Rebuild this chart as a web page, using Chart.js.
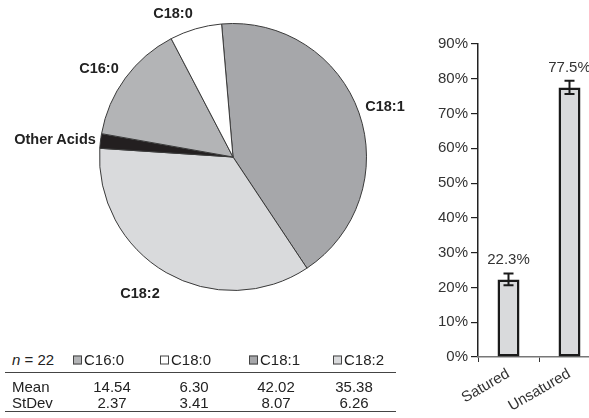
<!DOCTYPE html>
<html>
<head>
<meta charset="utf-8">
<script src="https://cdn.jsdelivr.net/npm/chart.js@4/dist/chart.umd.min.js"></script>
<style>
  html, body { margin: 0; padding: 0; background: #fff; overflow: hidden; width: 589px; height: 418px; }
  body { position: relative; font-family: "Liberation Sans", Arial, sans-serif; color: #222; }
  #pieWrap { position: absolute; left: 0; top: 0; width: 440px; height: 310px; }
  #barWrap { position: absolute; left: 420px; top: 0; width: 180px; height: 418px; }
  .plab { position: absolute; font-weight: bold; font-size: 14.5px; white-space: nowrap; transform: translate(-50%, -50%); line-height: 1; }
  .t { position: absolute; font-size: 15px; white-space: nowrap; line-height: 1; transform: translate(0, -50%); color: #222; }
  .tc { transform: translate(-50%, -50%); }
  .rule { position: absolute; left: 5px; width: 391px; height: 0; border-top: 1.5px solid #444; }
  .box { position: absolute; width: 7px; height: 7px; border: 1px solid #444; transform: translate(0, -50%); }
</style>
</head>
<body>
<div id="pieWrap"><canvas id="pie" width="440" height="310"></canvas></div>
<div id="barWrap"><canvas id="bar" width="180" height="418"></canvas></div>
<div id="labels"></div>
<div id="table"></div>
<script>
// ---- data ----
const pieLabels = ['C18:1', 'C18:2', 'Other Acids', 'C16:0', 'C18:0'];
const pieValues = [42.02, 35.38, 1.76, 14.54, 6.30];
const pieColors = ['#a6a7aa', '#d9dadc', '#231f20', '#b3b4b6', '#ffffff'];

const tableAcids = ['C16:0', 'C18:0', 'C18:1', 'C18:2'];
const tableMeans = ['14.54', '6.30', '42.02', '35.38'];
const tableStDev = ['2.37', '3.41', '8.07', '6.26'];
const sampleN = 22;

const barCategories = ['Satured', 'Unsatured'];
const barValues = [22.3, 77.5];
const barErrors = [1.7, 1.9];
const yTicksMax = 90;

// ---- pie ----
new Chart(document.getElementById('pie'), {
  type: 'pie',
  data: {
    labels: pieLabels,
    datasets: [{
      data: pieValues,
      backgroundColor: pieColors,
      borderColor: '#3a3a3a',
      borderWidth: 1,
      hoverOffset: 0,
      offset: 0
    }]
  },
  options: {
    responsive: false,
    animation: false,
    rotation: -4.9,
    layout: { padding: { left: 99, right: 73, top: 23, bottom: 19 } },
    plugins: { legend: { display: false }, tooltip: { enabled: false } }
  }
});

// pie labels (text placed beside slices)
const labelPos = {
  'C18:0': [173, 13],
  'C16:0': [99, 68],
  'C18:1': [385, 106],
  'Other Acids': [55, 139],
  'C18:2': [140, 293]
};
const labDiv = document.getElementById('labels');
pieLabels.forEach(l => {
  const d = document.createElement('div');
  d.className = 'plab';
  d.textContent = l;
  d.style.left = labelPos[l][0] + 'px';
  d.style.top = labelPos[l][1] + 'px';
  labDiv.appendChild(d);
});

// ---- table ----
const tbl = document.getElementById('table');
function addText(txt, x, y, cls, html) {
  const d = document.createElement('div');
  d.className = 't' + (cls ? ' ' + cls : '');
  if (html) d.innerHTML = txt; else d.textContent = txt;
  d.style.left = x + 'px';
  d.style.top = y + 'px';
  tbl.appendChild(d);
  return d;
}
const headY = 359, meanY = 386, sdY = 402;
addText('<i>n</i> = ' + sampleN, 12, headY, '', true);
const boxX = [73, 160, 249, 333];
const valX = [112, 194, 276, 354];
const colorOf = {};
pieLabels.forEach((l, i) => colorOf[l] = pieColors[i]);
tableAcids.forEach((a, i) => {
  const b = document.createElement('div');
  b.className = 'box';
  b.style.left = boxX[i] + 'px';
  b.style.top = (headY + 1) + 'px';
  b.style.background = colorOf[a];
  tbl.appendChild(b);
  addText(a, boxX[i] + 11, headY);
  addText(tableMeans[i], valX[i], meanY, 'tc');
  addText(tableStDev[i], valX[i], sdY, 'tc');
});
addText('Mean', 12, meanY);
addText('StDev', 12, sdY);
[372, 411].forEach(y => {
  const r = document.createElement('div');
  r.className = 'rule';
  r.style.top = y + 'px';
  tbl.appendChild(r);
});

// ---- bar chart ----
const errorBars = {
  id: 'errorBars',
  afterDatasetsDraw(chart) {
    const ctx = chart.ctx;
    const meta = chart.getDatasetMeta(0);
    const ys = chart.scales.y;
    ctx.save();
    ctx.strokeStyle = '#1a1a1a';
    ctx.lineWidth = 2;
    meta.data.forEach((bar, i) => {
      const v = barValues[i], e = barErrors[i];
      const yt = ys.getPixelForValue(v + e);
      const yb = ys.getPixelForValue(v - e);
      const x = bar.x;
      ctx.beginPath();
      ctx.moveTo(x, yt); ctx.lineTo(x, yb);
      ctx.moveTo(x - 5, yt); ctx.lineTo(x + 5, yt);
      ctx.moveTo(x - 5, yb); ctx.lineTo(x + 5, yb);
      ctx.stroke();
      ctx.fillStyle = '#333';
      ctx.font = '15px "Liberation Sans", Arial, sans-serif';
      ctx.textAlign = 'center';
      ctx.textBaseline = 'middle';
      ctx.fillText(v.toFixed(1) + '%', x, yt - 13.5);
    });
    ctx.restore();
  }
};

new Chart(document.getElementById('bar'), {
  type: 'bar',
  data: {
    labels: barCategories,
    datasets: [{
      data: barValues,
      backgroundColor: '#d9dadc',
      borderColor: '#1a1a1a',
      borderWidth: 2.5,
      borderSkipped: false,
      categoryPercentage: 1,
      barPercentage: 0.36
    }]
  },
  options: {
    responsive: false,
    animation: false,
    layout: { padding: { left: 0, right: 0, top: 44, bottom: 0 } },
    plugins: { legend: { display: false }, tooltip: { enabled: false } },
    scales: {
      y: {
        min: 0, max: yTicksMax,
        ticks: {
          stepSize: 10,
          callback: v => v + '%',
          color: '#333',
          font: { size: 15, family: '"Liberation Sans", Arial, sans-serif' },
          padding: 3
        },
        grid: { drawOnChartArea: false, drawTicks: true, tickLength: 7, color: '#222', lineWidth: 1.2 },
        border: { display: true, color: '#222', width: 1.5 },
        afterFit: s => { s.width = 58; }
      },
      x: {
        ticks: {
          minRotation: 30, maxRotation: 30,
          color: '#333',
          font: { size: 15, family: '"Liberation Sans", Arial, sans-serif' },
          padding: 3
        },
        grid: { drawOnChartArea: false, drawTicks: true, tickLength: 5, color: '#333', offset: true },
        border: { display: true, color: '#777', width: 1.5 },
        afterFit: s => { s.height = 61; }
      }
    }
  },
  plugins: [errorBars]
});
</script>
</body>
</html>
